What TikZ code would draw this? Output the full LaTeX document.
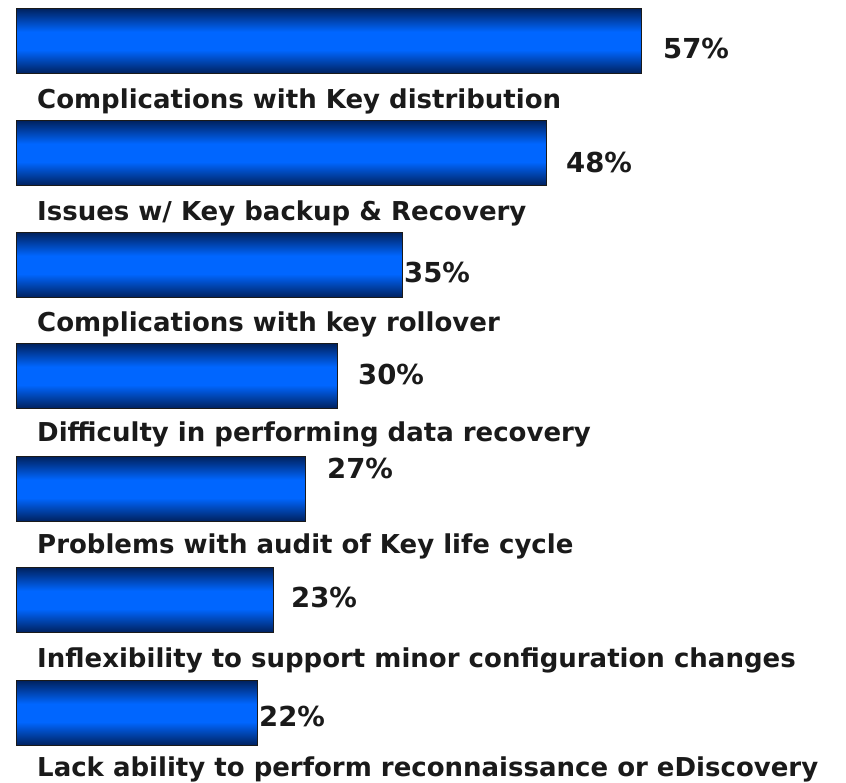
\documentclass[tikz,border=0pt]{standalone}
\usepackage{fontspec}
\setmainfont{DejaVu Sans}
\usepackage{tikz}
\usetikzlibrary{positioning}
\definecolor{baredge}{HTML}{00215E}
\definecolor{barmid}{HTML}{0066FF}
\definecolor{ink}{HTML}{1A1A1A}
\pgfdeclareverticalshading{barshade}{100bp}{color(0bp)=(baredge); color(25bp)=(baredge);
	color(43bp)=(barmid); color(57bp)=(barmid); color(75bp)=(baredge); color(100bp)=(baredge)}

\begin{document}
\begin{tikzpicture}[
		x=1pt, y=-1pt,
		bar/.style = {rectangle, anchor=north west, inner sep=0pt, draw=ink, thick,
			shading=barshade, minimum height=65},
		val/.style = {anchor=west, inner sep=0pt, text=ink, font=\fontsize{27.5}{27.5}\selectfont\bfseries},
		lbl/.style = {anchor=base west, inner sep=0pt, text=ink, font=\fontsize{26}{26}\selectfont\bfseries},
		]
		\useasboundingbox (0, 0) rectangle (846, 783);
		
		% === === Bars === ===
		\node[bar, minimum width=625]	(b1)	at	(16, 8)		{};
		\node[bar, minimum width=530]	(b2)	at	(16, 120)	{};
		\node[bar, minimum width=386]	(b3)	at	(16, 232)	{};
		\node[bar, minimum width=321]	(b4)	at	(16, 343)	{};
		\node[bar, minimum width=289]	(b5)	at	(16, 456)	{};
		\node[bar, minimum width=257]	(b6)	at	(16, 567)	{};
		\node[bar, minimum width=241]	(b7)	at	(16, 680)	{};
		
		% === === Values === ===
		\node[val]	(v1)	at	(663, 48)	{57\%};
		\node[val]	(v2)	at	(566, 162)	{48\%};
		\node[val]	(v3)	at	(404, 272)	{35\%};
		\node[val]	(v4)	at	(358, 374)	{30\%};
		\node[val]	(v5)	at	(327, 468)	{27\%};
		\node[val]	(v6)	at	(291, 597)	{23\%};
		\node[val]	(v7)	at	(259, 716)	{22\%};
		
		% === === Labels === ===
		\node[lbl]	(l1)	at	(37, 109)	{Complications with Key distribution};
		\node[lbl]	(l2)	at	(37, 221)	{Issues w/ Key backup \& Recovery};
		\node[lbl]	(l3)	at	(37, 332)	{Complications with key rollover};
		\node[lbl]	(l4)	at	(37, 442)	{Difficulty in performing data recovery};
		\node[lbl]	(l5)	at	(37, 553)	{Problems with audit of Key life cycle};
		\node[lbl]	(l6)	at	(37, 667)	{Inflexibility to support minor configuration changes};
		\node[lbl]	(l7)	at	(37, 776)	{Lack ability to perform reconnaissance or eDiscovery};
		
	\end{tikzpicture}
\end{document}
